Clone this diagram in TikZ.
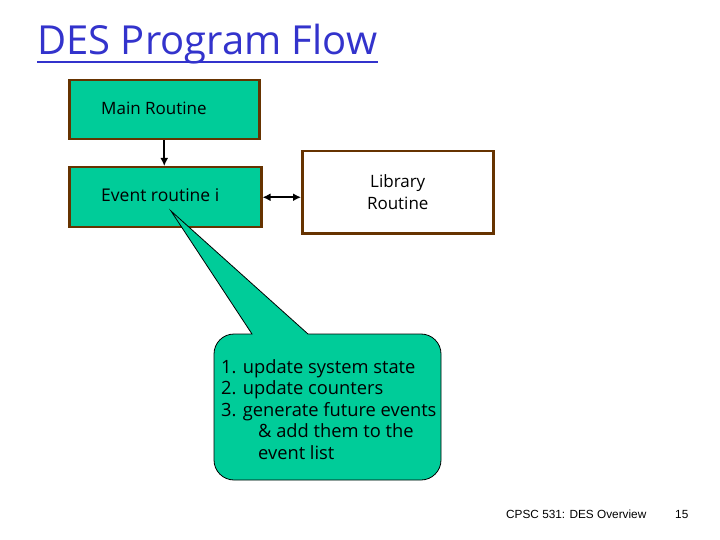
\documentclass[tikz,border=0pt]{standalone}
\usepackage{fontspec}
\setmainfont{Open Sans}
\newfontfamily\footfont{Liberation Sans}
\usetikzlibrary{calc, arrows.meta}

\begin{document}
\begin{tikzpicture}[x=1pt, y=-1pt]
    % Define colours
    \definecolor{titleColour}{HTML}{3333CC}
    \definecolor{fillColour}{HTML}{00CC99}
    \definecolor{borderColour}{HTML}{663300}

    \tikzset{
        routine/.style={draw=borderColour, line width=2.5pt, minimum width=190pt, minimum height=59pt, inner sep=0pt},
        label/.style={font=\fontsize{17}{21.5}\selectfont, inner sep=0pt},
        flow/.style={line width=2.4pt, arrows={-Latex[length=8pt, width=8pt]}},
        twoway/.style={line width=2.4pt, arrows={Latex[length=8pt, width=8pt]-Latex[length=8pt, width=8pt]}}
    }

    % Fix the page size
    \useasboundingbox (0,0) rectangle (720,540);

    % Draw title
    \node[anchor=base west, inner sep=0pt, text=titleColour, font=\fontsize{40}{46}\selectfont] (title) at (37,55) {DES Program Flow};
    \draw[titleColour, line width=2.5pt] (37,62) -- (378,62);

    % Draw routine boxes
    \node[routine, fill=fillColour, anchor=north west] (main) at (68,79) {};
    \node[label, anchor=base west] (mainText) at (101,115) {Main Routine};
    \node[routine, fill=fillColour, anchor=north west, minimum width=192pt, minimum height=60pt] (event) at (68,166) {};
    \node[label, anchor=base west, font=\fontsize{17.5}{21.5}\selectfont] (eventText) at (101,202) {Event routine i};
    \node[routine, fill=white, anchor=north west, minimum width=191pt, minimum height=82pt, align=center, label] (library) at (301,150) {Library\\Routine};

    % Draw connectors
    \draw[flow] (main.south) -- (main.south |- event.north);
    \draw[twoway] (event.east) -- (event.east -| library.west);

    % Draw callout
    \coordinate (tip) at (171,211);
    \draw[fill=fillColour, draw=black, line width=0.8pt]
        (tip) -- (308,334) -- (421,334) arc[start angle=-90, end angle=0, radius=20]
        -- (441,460) arc[start angle=0, end angle=90, radius=20]
        -- (234,480) arc[start angle=90, end angle=180, radius=20]
        -- (214,354) arc[start angle=180, end angle=270, radius=20]
        -- (252,334) -- cycle;
    \node[label, anchor=north west, align=left, font=\fontsize{18.3}{21.5}\selectfont] (steps) at (221,359) {1. update system state\\2. update counters\\3. generate future events\\\hspace{37pt}\& add them to the\\\hspace{37pt}event list};

    % Draw footer
    \node[anchor=base west, inner sep=0pt, font=\footfont\fontsize{11.8}{14}\selectfont] (course) at (506,518) {CPSC 531: DES Overview};
    \node[anchor=base west, inner sep=0pt, font=\footfont\fontsize{11.8}{14}\selectfont] (page) at (675,518) {15};
\end{tikzpicture}
\end{document}
